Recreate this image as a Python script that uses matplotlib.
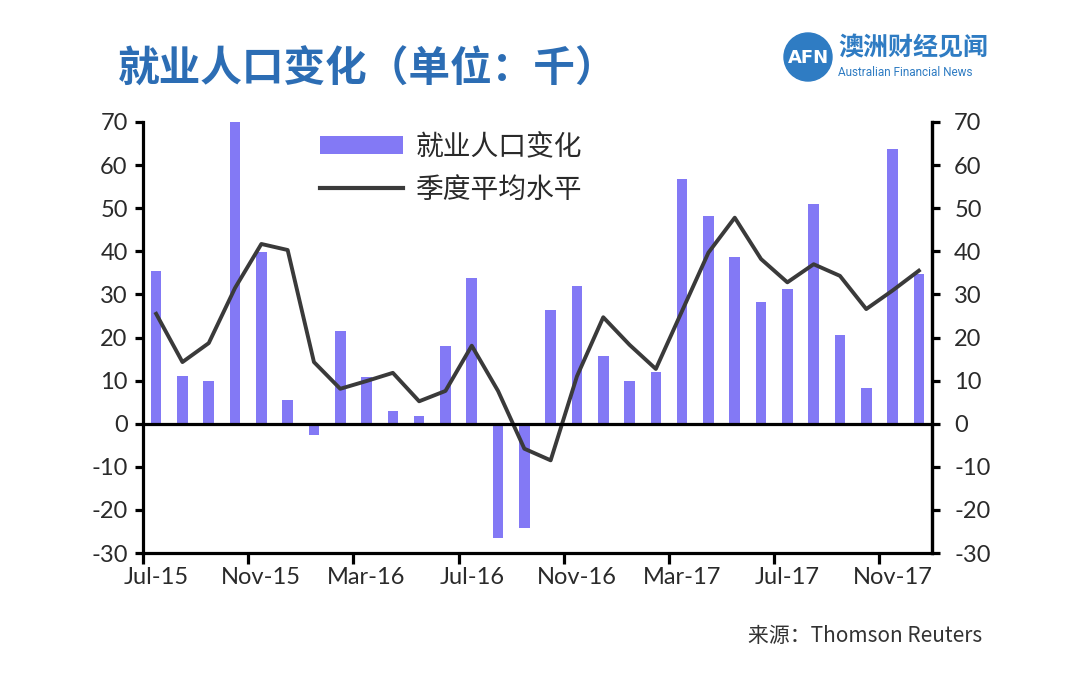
import matplotlib
matplotlib.use("Agg")
import matplotlib.pyplot as plt
from matplotlib.patches import Circle
from matplotlib.lines import Line2D
from matplotlib.patches import Patch
import numpy as np

plt.rcParams['font.family'] = ['Noto Sans CJK SC', 'DejaVu Sans']

months = ["Jul-15", "Aug-15", "Sep-15", "Oct-15", "Nov-15", "Dec-15",
          "Jan-16", "Feb-16", "Mar-16", "Apr-16", "May-16", "Jun-16",
          "Jul-16", "Aug-16", "Sep-16", "Oct-16", "Nov-16", "Dec-16",
          "Jan-17", "Feb-17", "Mar-17", "Apr-17", "May-17", "Jun-17",
          "Jul-17", "Aug-17", "Sep-17", "Oct-17", "Nov-17", "Dec-17"]
employment_change = [35.5, 11.0, 9.8, 70.0, 39.9, 5.6,
                     -2.7, 21.5, 10.8, 2.9, 1.7, 18.1,
                     33.8, -26.6, -24.3, 26.4, 32.0, 15.7,
                     10.0, 12.1, 56.8, 48.1, 38.7, 28.2,
                     31.3, 50.9, 20.6, 8.3, 63.7, 34.8]
quarterly_avg = [25.5, 14.3, 18.7, 31.5, 41.7, 40.3,
                 14.3, 8.1, 9.9, 11.8, 5.2, 7.6,
                 18.1, 7.6, -5.8, -8.5, 11.0, 24.7,
                 18.3, 12.7, 26.2, 39.7, 47.8, 38.2,
                 32.8, 37.0, 34.3, 26.6, 30.9, 35.5]
tick_labels = ["Jul-15", "Nov-15", "Mar-16", "Jul-16", "Nov-16", "Mar-17", "Jul-17", "Nov-17"]
yticks = [-30, -20, -10, 0, 10, 20, 30, 40, 50, 60, 70]

W, H = 1080, 689
fig = plt.figure(figsize=(W / 100, H / 100), dpi=100)
ax = fig.add_axes([143 / W, 1 - 553 / H, (932 - 143) / W, (553 - 122) / H])

x = np.arange(len(months))
bar_color = '#8379F5'
ax.bar(x, employment_change, width=0.4, color=bar_color, zorder=2)
ax.plot(x, quarterly_avg, color='#3a3a3a', lw=2.8, zorder=3)
ax.axhline(0, color='black', lw=2.3, zorder=4)

ax.set_xlim(-0.5, len(months) - 0.5)
ax.set_ylim(-30, 70)

ax.spines['top'].set_visible(False)
for s in ['left', 'right', 'bottom']:
    ax.spines[s].set_linewidth(2.3)
    ax.spines[s].set_color('black')

num_font = ['Lato', 'DejaVu Sans']
txt_color = '#2a2a2a'

ax.set_xticks(np.arange(-0.5, len(months) - 1, 4))
ax.set_xticklabels([])
ax.set_xticks(np.arange(0, len(months), 4), minor=True)
ax.set_xticklabels(tick_labels, minor=True, family=num_font, size=17, color=txt_color)
ax.tick_params(axis='x', which='major', direction='out', length=8, width=2.3)
ax.tick_params(axis='x', which='minor', length=0, pad=10)

ax.set_yticks(yticks)
ax.set_yticklabels([str(v) for v in yticks], family=num_font, size=17, color=txt_color)
ax.tick_params(axis='y', direction='out', length=6, width=2.3, pad=5)

ax2 = ax.twinx()
ax2.set_ylim(ax.get_ylim())
ax2.set_yticks(yticks)
ax2.set_yticklabels([str(v) for v in yticks], family=num_font, size=17, color=txt_color)
ax2.tick_params(axis='y', direction='out', length=6, width=2.3, pad=10)
for s in ['top', 'left', 'bottom']:
    ax2.spines[s].set_visible(False)
ax2.spines['right'].set_linewidth(2.3)

handles = [Patch(facecolor=bar_color, edgecolor='none'),
           Line2D([0], [0], color='#3a3a3a', lw=3.0)]
leg = fig.legend(handles, ["就业人口变化", "季度平均水平"],
                 loc='upper left', bbox_to_anchor=(295 / W, 1 - 107 / H),
                 frameon=False, fontsize=20, handlelength=3.0, handleheight=0.6,
                 handletextpad=0.45, labelspacing=0.45)
for t in leg.get_texts():
    t.set_color(txt_color)

# Title
fig.text(118 / W, 1 - 70 / H, "就业人口变化（单位：千）", fontsize=30, color='#2C6DB4',
         fontweight='bold', va='center', ha='left')

# Logo
logo_ax = fig.add_axes([0, 0, 1, 1], zorder=-1)
logo_ax.set_xlim(0, W)
logo_ax.set_ylim(H, 0)
logo_ax.axis('off')
logo_ax.add_patch(Circle((808, 57), 24, color='#2F7CC3'))
logo_ax.text(808, 58, "AFN", color='white', fontsize=13, ha='center', va='center',
             family=['DejaVu Sans'], fontweight='bold')
fig.text(838 / W, 1 - 48 / H, "澳洲财经见闻", fontsize=18, color='#2F7CC3', fontweight='bold',
         va='center', ha='left')
fig.text(838 / W, 1 - 72 / H, "Australian Financial News", fontsize=8.5, color='#2F7CC3',
         va='center', ha='left', family=['Roboto', 'DejaVu Sans'])

# Source
fig.text(982 / W, 1 - 636 / H, "来源：Thomson Reuters", fontsize=15, color='#333333',
         va='center', ha='right')

fig.savefig("out.png", dpi=100, facecolor='white')
